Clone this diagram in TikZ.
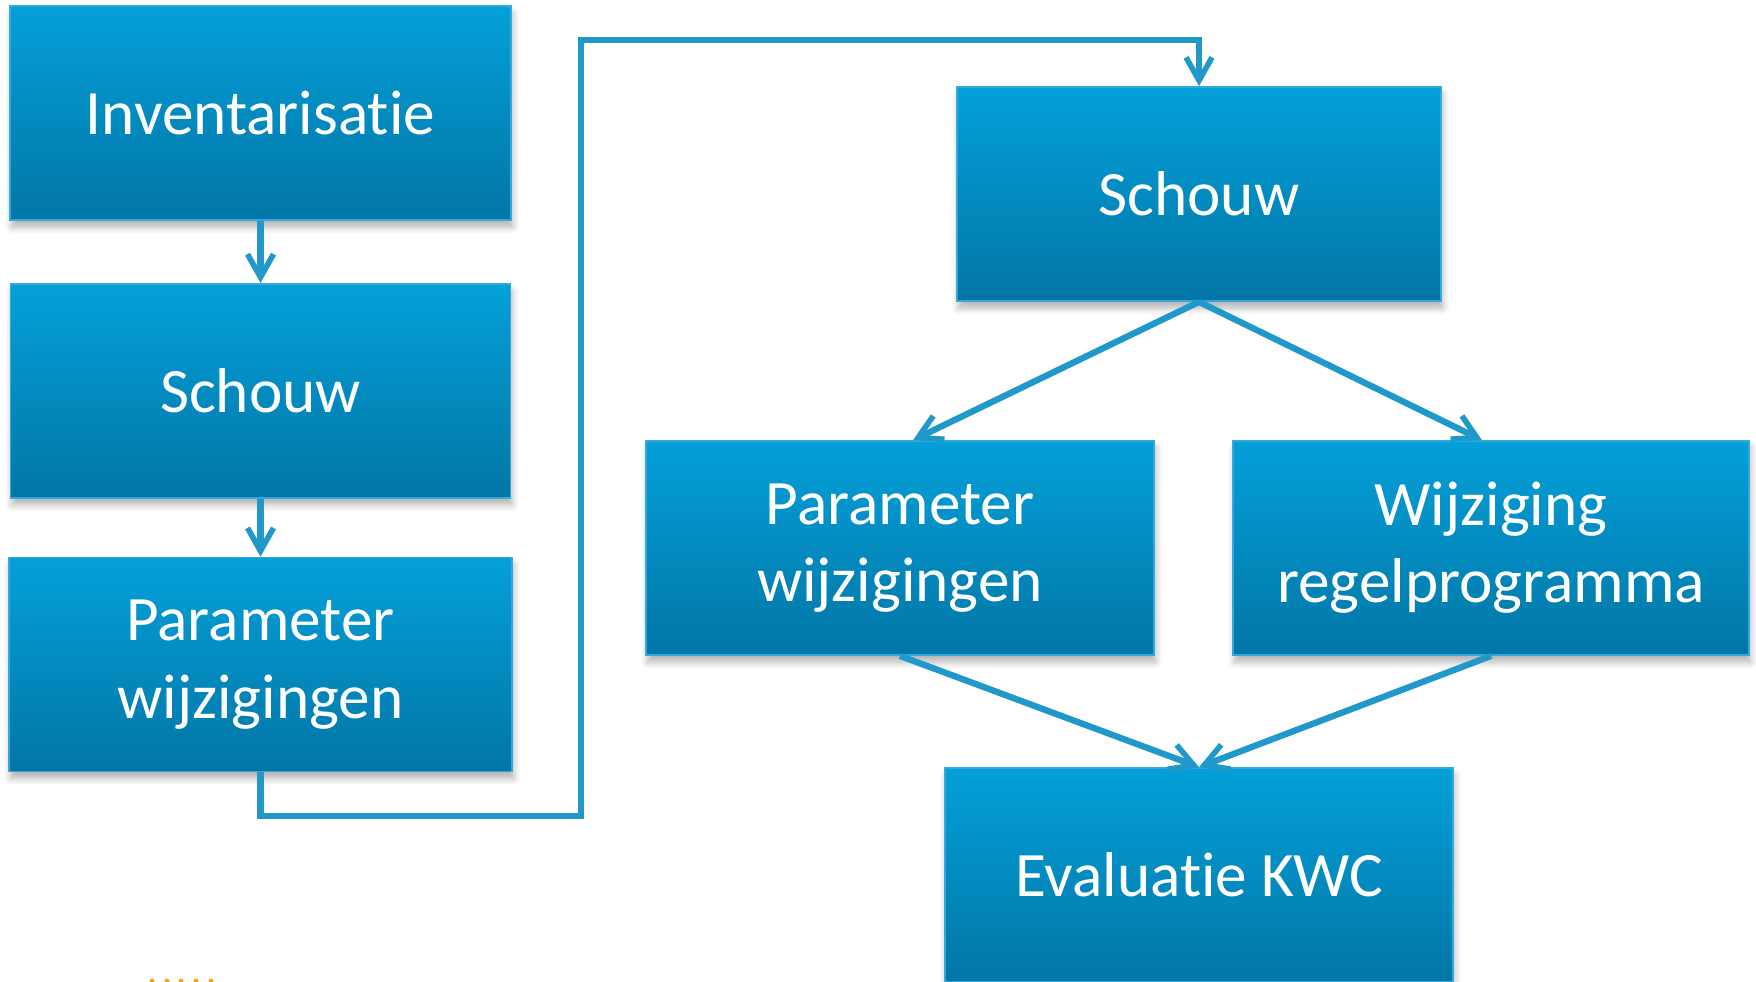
\documentclass[tikz,border=0pt]{standalone}
\usepackage{fontspec}
\setmainfont[Ligatures=NoCommon]{Carlito}
\usepackage{tikz}
\usetikzlibrary{positioning,calc,arrows.meta,shadows.blur}
\definecolor{boxtop}{RGB}{4,160,217}
\definecolor{boxmid}{RGB}{4,148,202}
\definecolor{boxbot}{RGB}{2,118,166}
\definecolor{boxline}{RGB}{52,170,220}
\definecolor{conncol}{RGB}{32,153,202}
\definecolor{dotcol}{RGB}{245,170,20}

\begin{document}
\begin{tikzpicture}[node distance=0.6cm,
        box/.style={rectangle, draw=boxline, line width=0.5pt, top color=boxtop, middle color=boxmid, bottom color=boxbot, text=white, align=center, minimum height=2.14cm, font=\fontsize{18}{22}\selectfont, blur shadow={shadow xshift=0.5pt, shadow yshift=-2pt, shadow blur steps=6, shadow opacity=30}},
        line/.style={draw=conncol, line width=1.8pt, -{Straight Barb[length=2.3mm, width=2.6mm, line width=1.6pt]}}]

        \useasboundingbox (0,0) rectangle (17.56,9.81);
        \clip (0,0) rectangle (17.56,9.81);

        % left column
        \node [box, minimum width=5.01cm] (inv) at (2.605,8.68) {Inventarisatie};
        \node [box, minimum width=5.00cm, below=0.62cm of inv] (schouwA) {Schouw};
        \node [box, minimum width=5.03cm, below=0.58cm of schouwA] (paramA) {Parameter\\wijzigingen};

        % right part
        \node [box, minimum width=4.84cm] (schouwB) at (11.99,7.87) {Schouw};
        \node [box, minimum width=5.08cm] (paramB) at (9.00,4.33) {Parameter\\wijzigingen};
        \node [box, minimum width=5.16cm] (regel) at (14.91,4.33) {Wijziging\\regelprogramma};
        \node [box, minimum width=5.08cm] (eval) at (11.99,1.06) {Evaluatie KWC};

        \coordinate (lowbend) at (5.81,1.65);
        \coordinate (topbend) at (5.81,9.41);

        \path [line] (inv) -- (schouwA);
        \path [line] (schouwA) -- (paramA);
        \draw [line] (paramA.south) |- (lowbend) -- (topbend) -| (schouwB.north); % to second round
        \path [line] (schouwB.south) -- ([xshift=0.13cm]paramB.north);
        \path [line] (schouwB.south) -- ([xshift=-0.09cm]regel.north);
        \path [line] (paramB.south) -- (eval.north);
        \path [line] (regel.south) -- (eval.north);

        % cut-off marks at the bottom edge
        \foreach \x in {1.52,1.67,1.81,1.96,2.11}
            \fill [dotcol] (\x,0) circle (0.025);
    \end{tikzpicture}
\end{document}
